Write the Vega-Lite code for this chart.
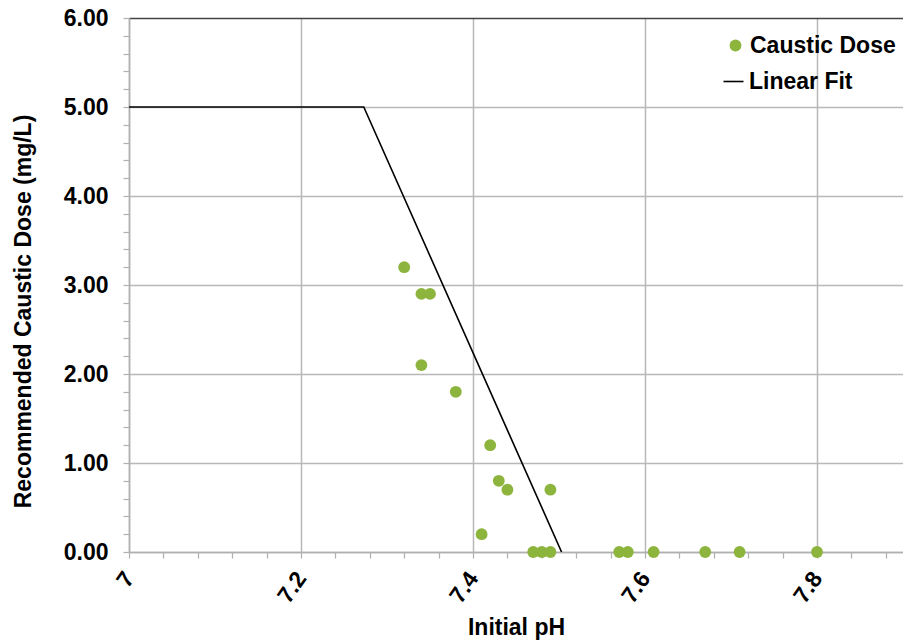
{
  "$schema": "https://vega.github.io/schema/vega-lite/v6.json",
  "width": 774,
  "height": 534,
  "autosize": {"type": "none"},
  "padding": {"left": 129, "top": 18, "right": 0, "bottom": 89},
  "config": {
    "font": "Liberation Sans",
    "view": {"stroke": null},
    "axis": {"labelFont": "Liberation Sans", "titleFont": "Liberation Sans", "labelColor": "#000", "titleColor": "#000"}
  },
  "datasets": {
    "points": [
      {"pH": 7.32, "dose": 3.2, "series": "Caustic Dose"},
      {"pH": 7.34, "dose": 2.9, "series": "Caustic Dose"},
      {"pH": 7.35, "dose": 2.9, "series": "Caustic Dose"},
      {"pH": 7.34, "dose": 2.1, "series": "Caustic Dose"},
      {"pH": 7.38, "dose": 1.8, "series": "Caustic Dose"},
      {"pH": 7.42, "dose": 1.2, "series": "Caustic Dose"},
      {"pH": 7.43, "dose": 0.8, "series": "Caustic Dose"},
      {"pH": 7.44, "dose": 0.7, "series": "Caustic Dose"},
      {"pH": 7.49, "dose": 0.7, "series": "Caustic Dose"},
      {"pH": 7.41, "dose": 0.2, "series": "Caustic Dose"},
      {"pH": 7.47, "dose": 0.0, "series": "Caustic Dose"},
      {"pH": 7.48, "dose": 0.0, "series": "Caustic Dose"},
      {"pH": 7.49, "dose": 0.0, "series": "Caustic Dose"},
      {"pH": 7.57, "dose": 0.0, "series": "Caustic Dose"},
      {"pH": 7.58, "dose": 0.0, "series": "Caustic Dose"},
      {"pH": 7.61, "dose": 0.0, "series": "Caustic Dose"},
      {"pH": 7.67, "dose": 0.0, "series": "Caustic Dose"},
      {"pH": 7.71, "dose": 0.0, "series": "Caustic Dose"},
      {"pH": 7.80, "dose": 0.0, "series": "Caustic Dose"}
    ],
    "fit": [
      {"pH": 7.0, "dose": 5.0, "series": "Linear Fit"},
      {"pH": 7.273, "dose": 5.0, "series": "Linear Fit"},
      {"pH": 7.503, "dose": 0.0, "series": "Linear Fit"}
    ]
  },
  "resolve": {"axis": {"x": "independent", "y": "independent"}},
  "layer": [
    {
      "data": {"name": "fit"},
      "mark": {"type": "line", "strokeWidth": 1.6, "clip": true},
      "encoding": {
        "x": {
          "field": "pH", "type": "quantitative",
          "scale": {"domain": [7, 7.9], "nice": false, "zero": false},
          "axis": {
            "orient": "bottom",
            "title": "Initial pH",
            "titleFontSize": 23, "titleFontWeight": "bold",
            "titleBaseline": "alphabetic", "titleY": 82,
            "values": [7, 7.2, 7.4, 7.6, 7.8],
            "format": "~g",
            "labelAngle": -55, "labelFontSize": 23, "labelFontWeight": "bold", "labelPadding": 16,
            "grid": true, "gridColor": "#b8b8b8", "gridWidth": 1.5,
            "domainColor": "#b0b0b0", "domainWidth": 1.5,
            "tickColor": "#b0b0b0", "tickSize": 6, "tickWidth": 1.2
          }
        },
        "y": {
          "field": "dose", "type": "quantitative",
          "scale": {"domain": [0, 6], "nice": false},
          "axis": {
            "orient": "left",
            "title": "Recommended Caustic Dose (mg/L)",
            "titleFontSize": 23, "titleFontWeight": "bold",
            "titleX": -94, "titleY": 293, "titleBaseline": "bottom", "titleAngle": -90, "titleAlign": "center",
            "values": [0, 1, 2, 3, 4, 5, 6],
            "format": ".2f",
            "labelFontSize": 23, "labelFontWeight": "bold", "labelPadding": 15,
            "grid": true,
            "gridColor": {"condition": {"test": "datum.value === 6", "value": "#444444"}, "value": "#b8b8b8"},
            "gridWidth": 1.5,
            "domainColor": "#b0b0b0", "domainWidth": 1.5,
            "tickColor": "#b0b0b0", "tickSize": 6, "tickWidth": 1.2
          }
        },
        "stroke": {
          "field": "series", "type": "nominal",
          "scale": {"domain": ["Linear Fit"], "range": ["#000000"]},
          "legend": {
            "title": null, "orient": "none", "legendX": 593, "legendY": 52,
            "symbolSize": 400, "symbolStrokeWidth": 1.6, "labelOffset": 4,
            "labelFontSize": 23, "labelFontWeight": "bold", "labelColor": "#000"
          }
        }
      }
    },
    {
      "data": {"name": "points"},
      "mark": {"type": "point", "filled": true, "opacity": 1, "size": 140},
      "encoding": {
        "x": {
          "field": "pH", "type": "quantitative",
          "axis": {
            "orient": "bottom", "title": null, "labels": false, "grid": false, "domain": false,
            "values": [7.04, 7.08, 7.12, 7.16, 7.24, 7.28, 7.32, 7.36, 7.44, 7.48, 7.52, 7.56, 7.64, 7.68, 7.72, 7.76, 7.84, 7.88],
            "tickColor": "#b0b0b0", "tickSize": 6, "tickWidth": 1.2
          }
        },
        "y": {
          "field": "dose", "type": "quantitative",
          "axis": {
            "orient": "left", "title": null, "labels": false, "grid": false, "domain": false,
            "values": [0.2, 0.4, 0.6, 0.8, 1.2, 1.4, 1.6, 1.8, 2.2, 2.4, 2.6, 2.8, 3.2, 3.4, 3.6, 3.8, 4.2, 4.4, 4.6, 4.8, 5.2, 5.4, 5.6, 5.8],
            "tickColor": "#b0b0b0", "tickSize": 6, "tickWidth": 1.2
          }
        },
        "color": {
          "field": "series", "type": "nominal",
          "scale": {"domain": ["Caustic Dose"], "range": ["#8DB53E"]},
          "legend": {
            "title": null, "orient": "none", "legendX": 595, "legendY": 16,
            "symbolType": "circle", "symbolSize": 140, "labelOffset": 3,
            "labelFontSize": 23, "labelFontWeight": "bold", "labelColor": "#000"
          }
        }
      }
    }
  ]
}
